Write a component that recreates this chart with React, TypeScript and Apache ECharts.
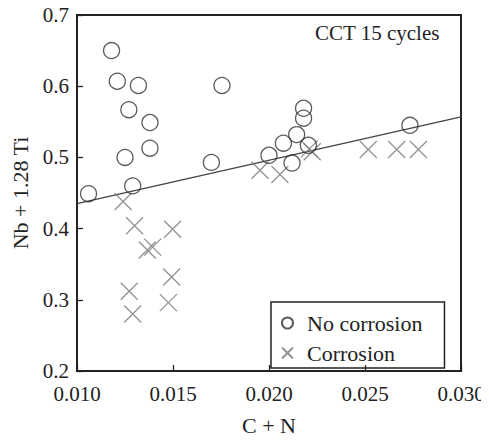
import React, { useEffect, useRef } from "react";
import * as echarts from "echarts";

const noCorrX = [0.0106, 0.0118, 0.0121, 0.0125, 0.0127, 0.0129, 0.0132, 0.0138, 0.0138, 0.0170, 0.01755, 0.0200, 0.02075, 0.0212, 0.02144, 0.0218, 0.0218, 0.02205, 0.02734];
const noCorrY = [0.449, 0.650, 0.607, 0.500, 0.567, 0.460, 0.601, 0.549, 0.513, 0.493, 0.601, 0.503, 0.520, 0.492, 0.532, 0.569, 0.555, 0.517, 0.545];

const corrX = [0.0124, 0.0130, 0.01366, 0.01394, 0.01498, 0.01493, 0.01272, 0.0129, 0.01476, 0.01953, 0.02057, 0.0221, 0.02225, 0.02517, 0.02665, 0.02778];
const corrY = [0.438, 0.404, 0.370, 0.374, 0.399, 0.332, 0.312, 0.280, 0.296, 0.482, 0.476, 0.512, 0.508, 0.511, 0.511, 0.511];

const fitX = [0.010, 0.030];
const fitY = [0.435, 0.557];

const xTicks = { min: 0.01, max: 0.03, interval: 0.005 };
const yTicks = { min: 0.2, max: 0.7, interval: 0.1 };

const FONT = "'Liberation Serif', 'Times New Roman', serif";
const CROSS = "path://M0,0L10,10M10,0L0,10";

export default function App() {
  const ref = useRef<HTMLDivElement>(null);
  useEffect(() => {
    if (!ref.current) return;
    const chart = echarts.init(ref.current, undefined, { renderer: "svg" });
    const axisCommon = {
      axisLine: { show: true, lineStyle: { color: "#222", width: 2 } },
      axisTick: { show: true, inside: true, length: 6, lineStyle: { color: "#222", width: 1.3 } },
      splitLine: { show: false },
      axisLabel: { color: "#222", fontFamily: FONT, fontSize: 21 },
      nameTextStyle: { color: "#222", fontFamily: FONT, fontSize: 22 },
    };
    chart.setOption({
      animation: false,
      backgroundColor: "#fff",
      grid: {
        left: 77,
        right: 28,
        top: 15,
        bottom: 61,
        show: true,
        borderColor: "#222",
        borderWidth: 2,
        backgroundColor: "transparent",
      },
      xAxis: {
        type: "value",
        ...xTicks,
        ...axisCommon,
        axisLabel: { ...axisCommon.axisLabel, margin: 12, formatter: (v: number) => v.toFixed(3) },
        name: "C + N",
        nameLocation: "middle",
        nameGap: 43,
      },
      yAxis: {
        type: "value",
        ...yTicks,
        ...axisCommon,
        axisLabel: { ...axisCommon.axisLabel, margin: 8, formatter: (v: number) => v.toFixed(1) },
        name: "Nb + 1.28 Ti",
        nameLocation: "middle",
        nameGap: 46,
      },
      legend: {
        orient: "vertical",
        left: 271,
        top: 302,
        padding: [10, 22, 4, 10],
        itemGap: 8,
        itemWidth: 11,
        itemHeight: 11,
        borderColor: "#222",
        borderWidth: 1.5,
        textStyle: { color: "#222", fontFamily: FONT, fontSize: 22, padding: [0, 0, 0, 9] },
        data: [
          { name: "No corrosion", icon: "circle" },
          { name: "Corrosion", icon: CROSS },
        ],
      },
      graphic: [
        {
          type: "text",
          left: 315,
          top: 22,
          style: { text: "CCT 15 cycles", fontFamily: FONT, fontSize: 21, fill: "#222" },
        },
      ],
      series: [
        {
          type: "line",
          name: "fit",
          data: fitX.map((x, i) => [x, fitY[i]]),
          symbol: "none",
          lineStyle: { color: "#444", width: 1.3 },
          z: 1,
        },
        {
          type: "scatter",
          name: "No corrosion",
          data: noCorrX.map((x, i) => [x, noCorrY[i]]),
          symbol: "circle",
          symbolSize: 16,
          itemStyle: { color: "transparent", borderColor: "#333", borderWidth: 1.3 },
          z: 3,
        },
        {
          type: "scatter",
          name: "Corrosion",
          data: corrX.map((x, i) => [x, corrY[i]]),
          symbol: CROSS,
          symbolSize: 17,
          itemStyle: { color: "transparent", borderColor: "#777", borderWidth: 1.3 },
          z: 2,
        },
      ],
    });
    return () => chart.dispose();
  }, []);
  return <div ref={ref} style={{ width: 489, height: 441, marginLeft: -8, marginTop: -8 }} />;
}
